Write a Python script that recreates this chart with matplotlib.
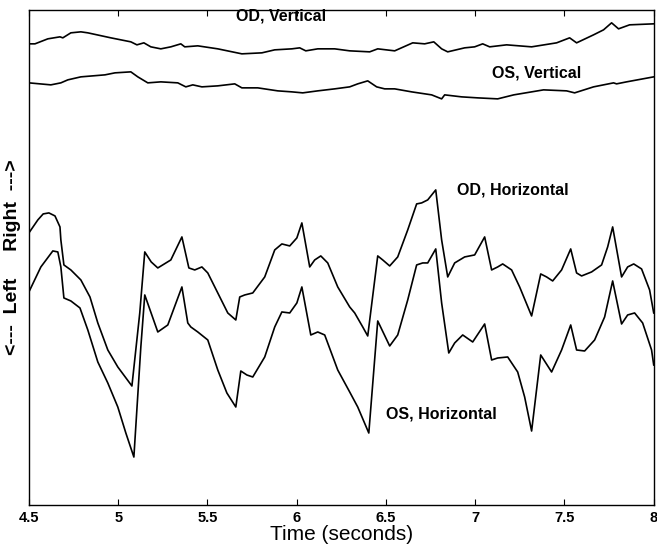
import matplotlib
matplotlib.use("Agg")
import matplotlib.pyplot as plt

plt.rcParams['font.family'] = ['Liberation Sans', 'DejaVu Sans']

# eye position traces (arbitrary units), time in seconds
od_h_t = [4.500, 4.550, 4.580, 4.612, 4.646, 4.674, 4.679, 4.696, 4.735, 4.791, 4.842, 4.886, 4.942,
          4.998, 5.077, 5.121, 5.149, 5.185, 5.222, 5.295, 5.357, 5.396, 5.429, 5.469, 5.502, 5.558,
          5.614, 5.659, 5.681, 5.709, 5.754, 5.821, 5.877, 5.917, 5.961, 6.001, 6.029, 6.073,
          6.101, 6.135, 6.174, 6.230, 6.297, 6.325, 6.370, 6.398, 6.454, 6.482, 6.521, 6.566,
          6.622, 6.672, 6.700, 6.734, 6.779, 6.812, 6.846, 6.885, 6.941, 6.997, 7.053, 7.092,
          7.126, 7.154, 7.204, 7.249, 7.316, 7.367, 7.400, 7.434, 7.484, 7.535, 7.568, 7.596,
          7.652, 7.708, 7.742, 7.770, 7.820, 7.854, 7.888, 7.932, 7.977, 8.000]
od_h_v = [54.4, 57.0, 58.2, 58.4, 57.8, 55.6, 53.0, 48.0, 47.0, 45.0, 41.6, 36.4, 31.0,
          27.6, 23.8, 38.4, 50.6, 48.6, 47.4, 49.0, 53.6, 47.4, 47.0, 47.6, 46.4, 42.4,
          38.4, 37.0, 41.6, 42.0, 42.4, 45.6, 51.0, 52.2, 51.8, 53.4, 56.4, 47.6,
          49.0, 49.8, 48.4, 43.6, 39.6, 38.4, 35.6, 33.8, 49.8, 49.0, 47.8, 49.6,
          55.0, 60.2, 60.4, 61.0, 63.0, 53.0, 45.6, 48.4, 49.6, 50.0, 53.6, 47.0,
          47.6, 48.2, 47.0, 43.6, 37.8, 46.2, 45.6, 44.8, 47.0, 51.2, 46.4, 45.8,
          46.6, 48.0, 51.6, 55.6, 45.6, 47.6, 48.2, 47.2, 43.0, 38.4]

os_h_t = [4.500, 4.567, 4.634, 4.662, 4.679, 4.696, 4.735, 4.786, 4.830, 4.886, 4.942, 4.998,
          5.043, 5.088, 5.127, 5.149, 5.222, 5.278, 5.357, 5.390, 5.407, 5.446, 5.502, 5.558,
          5.609, 5.659, 5.687, 5.721, 5.754, 5.821, 5.877, 5.917, 5.961, 6.001, 6.029, 6.079,
          6.118, 6.157, 6.230, 6.297, 6.342, 6.404, 6.454, 6.521, 6.566, 6.622, 6.672, 6.706,
          6.734, 6.779, 6.812, 6.852, 6.885, 6.930, 6.986, 7.053, 7.092, 7.126, 7.182, 7.238,
          7.277, 7.316, 7.367, 7.428, 7.484, 7.535, 7.568, 7.613, 7.669, 7.725, 7.770, 7.820,
          7.854, 7.893, 7.938, 7.988, 8.000]
os_h_v = [42.6, 47.6, 50.8, 50.6, 47.6, 41.4, 40.8, 39.4, 35.0, 28.6, 24.4, 19.6,
          14.4, 9.6, 31.6, 42.0, 34.6, 36.0, 43.6, 36.4, 35.6, 34.6, 33.0, 27.0,
          22.4, 19.6, 26.8, 26.0, 25.6, 29.6, 35.6, 38.6, 38.4, 40.4, 43.6, 34.0,
          34.6, 34.0, 27.0, 22.6, 19.6, 14.4, 36.8, 31.8, 34.0, 41.0, 48.0, 48.4,
          48.4, 51.2, 40.4, 30.4, 32.4, 34.0, 32.6, 36.2, 29.0, 29.4, 29.6, 26.6,
          21.6, 14.8, 30.0, 26.6, 31.0, 36.0, 31.0, 30.8, 33.0, 37.6, 44.8, 36.2,
          38.0, 38.4, 36.4, 31.0, 28.0]

od_v_t = [4.500, 4.534, 4.606, 4.674, 4.690, 4.735, 4.791, 4.830, 4.959, 5.071, 5.105, 5.144,
          5.183, 5.239, 5.295, 5.351, 5.373, 5.446, 5.558, 5.693, 5.805, 5.877, 5.973, 6.017,
          6.051, 6.118, 6.213, 6.297, 6.409, 6.454, 6.549, 6.650, 6.717, 6.768, 6.812, 6.846,
          6.941, 6.997, 7.042, 7.081, 7.176, 7.316, 7.456, 7.529, 7.568, 7.663, 7.719, 7.764,
          7.803, 7.865, 8.000]
od_v_v = [92.2, 92.2, 93.2, 93.6, 93.4, 94.4, 94.6, 94.4, 93.4, 92.6, 92.0, 92.4,
          91.6, 91.2, 91.6, 92.2, 91.6, 91.8, 91.2, 90.2, 90.4, 91.0, 91.2, 91.4,
          90.8, 91.2, 91.2, 90.8, 90.6, 91.2, 90.8, 92.4, 92.2, 92.6, 91.2, 90.6,
          91.4, 91.6, 92.2, 91.6, 92.0, 91.6, 92.4, 93.4, 92.4, 94.0, 95.0, 96.4,
          95.2, 96.0, 96.2]

os_v_t = [4.500, 4.623, 4.679, 4.718, 4.791, 4.926, 4.982, 5.071, 5.110, 5.166, 5.239, 5.334,
          5.379, 5.418, 5.469, 5.558, 5.653, 5.693, 5.782, 5.894, 5.973, 6.034, 6.118, 6.213,
          6.297, 6.342, 6.398, 6.448, 6.493, 6.549, 6.644, 6.756, 6.812, 6.829, 6.924, 7.014,
          7.126, 7.216, 7.383, 7.512, 7.557, 7.663, 7.775, 7.792, 7.848, 8.000]
os_v_v = [84.4, 84.0, 84.4, 85.0, 85.6, 86.0, 86.4, 86.6, 85.6, 84.4, 84.6, 84.4,
          83.6, 84.0, 83.6, 83.8, 84.2, 83.4, 83.4, 82.8, 82.6, 82.4, 82.8, 83.2,
          83.6, 84.2, 84.8, 83.6, 83.2, 83.2, 82.6, 82.0, 81.2, 82.0, 81.6, 81.4,
          81.2, 82.0, 83.0, 82.8, 82.4, 83.6, 84.4, 84.2, 84.6, 85.6]

x_ticks = [4.5, 5, 5.5, 6, 6.5, 7, 7.5, 8]
x_tick_labels = ['4.5', '5', '5.5', '6', '6.5', '7', '7.5', '8']

fig = plt.figure(figsize=(6.57, 5.46), dpi=100)
ax = fig.add_axes([0.044, 0.075, 0.951, 0.907])

for t, v in [(od_v_t, od_v_v), (os_v_t, os_v_v), (od_h_t, od_h_v), (os_h_t, os_h_v)]:
    ax.plot(t, v, color='black', linewidth=1.2, solid_joinstyle='round')

lbl = dict(fontsize=11.5, fontweight='bold', ha='center', va='center')
ax.text(5.911, 97.8, 'OD, Vertical', **lbl)
ax.text(7.344, 86.4, 'OS, Vertical', **lbl)
ax.text(7.210, 63.0, 'OD, Horizontal', **lbl)
ax.text(6.812, 18.2, 'OS, Horizontal', **lbl)

ax.set_xlim(4.5, 8)
ax.set_ylim(0, 99)
ax.set_xticks(x_ticks)
ax.set_xticklabels(x_tick_labels, fontsize=10.5, fontweight='bold')
ax.set_yticks([])
ax.tick_params(axis='x', direction='in', top=True, length=4, width=0.8, pad=4)
ax.set_xlabel('Time (seconds)', fontsize=15, labelpad=0)
ax.set_ylabel('<---  Left     Right  --->', fontsize=14, fontweight='bold', labelpad=6)
for s in ax.spines.values():
    s.set_linewidth(1.0)

fig.savefig('out.png', dpi=100)
